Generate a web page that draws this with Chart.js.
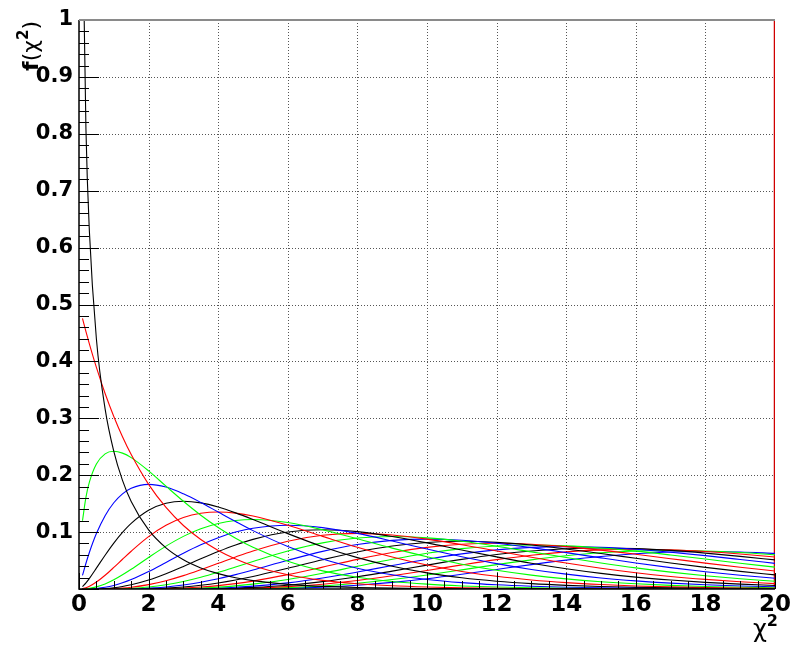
<!DOCTYPE html>
<html>
<head>
<meta charset="utf-8">
<script src="https://cdn.jsdelivr.net/npm/chart.js@4.4.1/dist/chart.umd.min.js"></script>
<style>
    html, body { margin: 0; padding: 0; background: #ffffff; }
    #wrap { width: 793px; height: 645px; }
</style>
</head>
<body>
<div id="wrap"><canvas id="chi2" width="793" height="645"></canvas></div>
<script>
let xs = [0.1, 0.2, 0.3, 0.5, 0.75, 1, 1.25, 1.5, 2, 2.5, 3, 3.5, 4, 4.5, 5, 6, 7, 8, 9, 10, 11, 12, 13, 14, 15, 16, 17, 18, 19, 20]

let k1 = [1.2000, 0.8072, 0.6269, 0.4394, 0.3166, 0.2420, 0.1910, 0.1539, 0.1038, 0.0723, 0.0514, 0.0371, 0.0270, 0.0198, 0.0147, 0.0081, 0.0046, 0.0026, 0.0015, 0.0009, 0.0005, 0.0003, 0.0002, 0.0001, 0.0001, 0, 0, 0, 0, 0]
let k2 = [0.4756, 0.4524, 0.4304, 0.3894, 0.3436, 0.3033, 0.2676, 0.2362, 0.1839, 0.1433, 0.1116, 0.0869, 0.0677, 0.0527, 0.0410, 0.0249, 0.0151, 0.0092, 0.0056, 0.0034, 0.0020, 0.0012, 0.0008, 0.0005, 0.0003, 0.0002, 0.0001, 0.0001, 0, 0]
let k3 = [0.1200, 0.1614, 0.1881, 0.2197, 0.2375, 0.2420, 0.2388, 0.2309, 0.2076, 0.1807, 0.1542, 0.1297, 0.1080, 0.0892, 0.0733, 0.0487, 0.0319, 0.0207, 0.0133, 0.0085, 0.0054, 0.0034, 0.0022, 0.0014, 0.0009, 0.0005, 0.0003, 0.0002, 0.0001, 0.0001]
let k4 = [0.0238, 0.0452, 0.0646, 0.0974, 0.1289, 0.1516, 0.1673, 0.1771, 0.1839, 0.1791, 0.1673, 0.1521, 0.1353, 0.1186, 0.1026, 0.0747, 0.0528, 0.0366, 0.0250, 0.0168, 0.0112, 0.0074, 0.0049, 0.0032, 0.0021, 0.0013, 0.0009, 0.0006, 0.0004, 0.0002]
let k5 = [0.0040, 0.0108, 0.0188, 0.0366, 0.0594, 0.0807, 0.0995, 0.1154, 0.1384, 0.1506, 0.1542, 0.1513, 0.1440, 0.1338, 0.1221, 0.0973, 0.0744, 0.0551, 0.0399, 0.0283, 0.0198, 0.0137, 0.0094, 0.0064, 0.0043, 0.0029, 0.0019, 0.0013, 0.0008, 0.0005]
let k6 = [0.0006, 0.0023, 0.0048, 0.0122, 0.0242, 0.0379, 0.0523, 0.0664, 0.0920, 0.1119, 0.1255, 0.1330, 0.1353, 0.1334, 0.1283, 0.1120, 0.0925, 0.0733, 0.0562, 0.0421, 0.0309, 0.0223, 0.0159, 0.0112, 0.0078, 0.0054, 0.0037, 0.0025, 0.0017, 0.0011]
let k7 = [0.0001, 0.0004, 0.0011, 0.0037, 0.0089, 0.0161, 0.0249, 0.0346, 0.0554, 0.0753, 0.0925, 0.1059, 0.1152, 0.1204, 0.1221, 0.1168, 0.1041, 0.0882, 0.0718, 0.0567, 0.0436, 0.0329, 0.0244, 0.0178, 0.0128, 0.0091, 0.0064, 0.0045, 0.0031, 0.0022]
let k8 = [0, 0.0001, 0.0002, 0.0010, 0.0030, 0.0063, 0.0109, 0.0166, 0.0307, 0.0466, 0.0628, 0.0776, 0.0902, 0.1001, 0.1069, 0.1120, 0.1079, 0.0977, 0.0844, 0.0702, 0.0567, 0.0446, 0.0344, 0.0261, 0.0194, 0.0143, 0.0104, 0.0075, 0.0053, 0.0038]
let k9 = [0, 0, 0, 0.0003, 0.0010, 0.0023, 0.0044, 0.0074, 0.0158, 0.0269, 0.0396, 0.0530, 0.0658, 0.0774, 0.0872, 0.1001, 0.1041, 0.1008, 0.0923, 0.0810, 0.0685, 0.0564, 0.0452, 0.0356, 0.0275, 0.0209, 0.0157, 0.0116, 0.0085, 0.0062]
let k10 = [0, 0, 0, 0.0001, 0.0003, 0.0008, 0.0017, 0.0031, 0.0077, 0.0146, 0.0235, 0.0340, 0.0451, 0.0563, 0.0668, 0.0840, 0.0944, 0.0977, 0.0949, 0.0877, 0.0779, 0.0669, 0.0559, 0.0456, 0.0365, 0.0286, 0.0221, 0.0169, 0.0127, 0.0095]
let k11 = [0, 0, 0, 0, 0.0001, 0.0003, 0.0006, 0.0012, 0.0035, 0.0075, 0.0132, 0.0206, 0.0293, 0.0387, 0.0484, 0.0667, 0.0810, 0.0896, 0.0923, 0.0899, 0.0838, 0.0752, 0.0653, 0.0553, 0.0458, 0.0371, 0.0296, 0.0232, 0.0179, 0.0137]
let k12 = [0, 0, 0, 0, 0, 0.0001, 0.0002, 0.0005, 0.0015, 0.0036, 0.0071, 0.0119, 0.0180, 0.0253, 0.0334, 0.0504, 0.0661, 0.0781, 0.0854, 0.0877, 0.0857, 0.0803, 0.0727, 0.0639, 0.0547, 0.0458, 0.0376, 0.0304, 0.0241, 0.0189]
let k13 = [0, 0, 0, 0, 0, 0, 0.0001, 0.0002, 0.0006, 0.0017, 0.0036, 0.0066, 0.0106, 0.0158, 0.0220, 0.0364, 0.0515, 0.0651, 0.0755, 0.0818, 0.0838, 0.0820, 0.0772, 0.0704, 0.0624, 0.0540, 0.0457, 0.0380, 0.0310, 0.0249]
let k14 = [0, 0, 0, 0, 0, 0, 0, 0.0001, 0.0003, 0.0008, 0.0018, 0.0035, 0.0060, 0.0095, 0.0139, 0.0252, 0.0385, 0.0521, 0.0641, 0.0731, 0.0786, 0.0803, 0.0787, 0.0745, 0.0684, 0.0611, 0.0533, 0.0455, 0.0382, 0.0315]
let k15 = [0, 0, 0, 0, 0, 0, 0, 0, 0.0001, 0.0003, 0.0008, 0.0018, 0.0033, 0.0055, 0.0085, 0.0168, 0.0277, 0.0401, 0.0523, 0.0629, 0.0709, 0.0757, 0.0772, 0.0758, 0.0720, 0.0665, 0.0598, 0.0526, 0.0453, 0.0384]
let k16 = [0, 0, 0, 0, 0, 0, 0, 0, 0, 0.0001, 0.0004, 0.0009, 0.0017, 0.0031, 0.0050, 0.0108, 0.0193, 0.0298, 0.0412, 0.0522, 0.0617, 0.0688, 0.0731, 0.0745, 0.0732, 0.0698, 0.0647, 0.0586, 0.0519, 0.0450]
let k17 = [0, 0, 0, 0, 0, 0, 0, 0, 0, 0.0001, 0.0002, 0.0004, 0.0009, 0.0016, 0.0028, 0.0067, 0.0129, 0.0214, 0.0314, 0.0419, 0.0520, 0.0606, 0.0669, 0.0708, 0.0720, 0.0709, 0.0678, 0.0631, 0.0574, 0.0511]
let k18 = [0, 0, 0, 0, 0, 0, 0, 0, 0, 0, 0.0001, 0.0002, 0.0004, 0.0009, 0.0016, 0.0041, 0.0084, 0.0149, 0.0232, 0.0326, 0.0424, 0.0516, 0.0594, 0.0652, 0.0687, 0.0698, 0.0688, 0.0659, 0.0616, 0.0563]
let k19 = [0, 0, 0, 0, 0, 0, 0, 0, 0, 0, 0, 0.0001, 0.0002, 0.0004, 0.0008, 0.0024, 0.0053, 0.0101, 0.0166, 0.0247, 0.0336, 0.0428, 0.0512, 0.0583, 0.0636, 0.0667, 0.0678, 0.0668, 0.0641, 0.0602]
let k20 = [0, 0, 0, 0, 0, 0, 0, 0, 0, 0, 0, 0, 0.0001, 0.0002, 0.0004, 0.0014, 0.0033, 0.0066, 0.0116, 0.0181, 0.0259, 0.0344, 0.0429, 0.0507, 0.0572, 0.0620, 0.0649, 0.0659, 0.0650, 0.0626]

let curves = [k1, k2, k3, k4, k5, k6, k7, k8, k9, k10, k11, k12, k13, k14, k15, k16, k17, k18, k19, k20]

// red edge line at the right of the frame
let edgeX = [20, 20]
let edgeY = [0, 1]

// root palette: 1 black, 2 red, 3 green, 4 blue
let lineColors = ["#000000", "#ff0000", "#00ff00", "#0000ff"]

// axis titles, written as runs so the "2" can sit raised and bold like in ROOT latex
let yTitle = [["f", "bold 22px 'DejaVu Sans'", 0], ["(χ", "22px 'DejaVu Sans'", 0], ["2", "bold 15px 'DejaVu Sans'", 10], [")", "22px 'DejaVu Sans'", 0]]
let xTitle = [["χ", "24px 'DejaVu Sans'", 0], ["2", "bold 16px 'DejaVu Sans'", 11]]

let datasets = curves.map((ys, index) => {
    return {
        label: `ndf = ${index + 1}`,
        data: ys.map((v, i) => ({x: xs[i], y: v})),
        borderColor: lineColors[index % 4],
        borderWidth: 1.1,
        pointRadius: 0,
        cubicInterpolationMode: "monotone",
        fill: false,
    }
})
datasets.push({
    label: "edge",
    data: edgeX.map((v, i) => ({x: v, y: edgeY[i]})),
    borderColor: "#d00000",
    borderWidth: 2.5,
    pointRadius: 0,
    fill: false,
})

function runsWidth(ctx, runs) {
    return runs.reduce((w, r) => {
        ctx.font = r[1]
        return w + ctx.measureText(r[0]).width
    }, 0)
}

function drawRuns(ctx, runs, x) {
    runs.forEach(r => {
        ctx.font = r[1]
        ctx.fillText(r[0], x, -r[2])
        x += ctx.measureText(r[0]).width
    })
}

// ROOT style frame: dotted grid below the curves, ticks inside the frame on top
let rootFrame = {
    id: "rootFrame",
    beforeDatasetsDraw(chart) {
        let {ctx, chartArea: a, scales: {x, y}} = chart
        ctx.save()
        ctx.strokeStyle = "#555555"
        ctx.lineWidth = 1
        ctx.setLineDash([1, 2])
        ctx.beginPath()
        x.ticks.forEach(t => {
            if (t.value <= x.min || t.value >= x.max) return
            let px = Math.round(x.getPixelForValue(t.value)) + 0.5
            ctx.moveTo(px, a.top)
            ctx.lineTo(px, a.bottom)
        })
        y.ticks.forEach(t => {
            if (t.value <= y.min || t.value >= y.max) return
            let py = Math.round(y.getPixelForValue(t.value)) + 0.5
            ctx.moveTo(a.left, py)
            ctx.lineTo(a.right, py)
        })
        ctx.stroke()
        ctx.restore()
    },
    afterDatasetsDraw(chart) {
        let {ctx, chartArea: a, scales: {x, y}} = chart
        ctx.save()
        ctx.lineWidth = 1
        ctx.strokeStyle = "#000000"
        ctx.beginPath()
        for (let i = 0; i <= 50; i++) {
            let py = Math.round(y.getPixelForValue(i * 0.02)) + 0.5
            let len = i % 5 === 0 ? 20 : 10
            ctx.moveTo(a.left, py)
            ctx.lineTo(a.left + len, py)
        }
        for (let i = 0; i <= 40; i++) {
            let px = Math.round(x.getPixelForValue(i * 0.5)) + 0.5
            let len = i % 4 === 0 ? 16 : 8
            ctx.moveTo(px, a.bottom)
            ctx.lineTo(px, a.bottom - len)
        }
        ctx.stroke()

        ctx.lineWidth = 1.5
        ctx.beginPath()
        ctx.moveTo(a.left, a.top)
        ctx.lineTo(a.left, a.bottom)
        ctx.lineTo(a.right, a.bottom)
        ctx.stroke()

        ctx.strokeStyle = "#8a8a8a"
        ctx.lineWidth = 2
        ctx.beginPath()
        ctx.moveTo(a.left, a.top)
        ctx.lineTo(a.right, a.top)
        ctx.stroke()

        // axis titles
        ctx.fillStyle = "#000000"
        ctx.textBaseline = "alphabetic"
        ctx.textAlign = "left"
        ctx.save()
        ctx.translate(38, a.top + 1)
        ctx.rotate(-Math.PI / 2)
        drawRuns(ctx, yTitle, -runsWidth(ctx, yTitle))
        ctx.restore()

        ctx.save()
        ctx.translate(a.right + 3, 637)
        drawRuns(ctx, xTitle, -runsWidth(ctx, xTitle))
        ctx.restore()
        ctx.restore()
    }
}

let tickFont = {family: "DejaVu Sans", weight: "bold"}

new Chart(document.getElementById("chi2").getContext("2d"), {
    type: "line",
    data: {datasets: datasets},
    plugins: [rootFrame],
    options: {
        animation: false,
        responsive: false,
        layout: {padding: {left: 0, right: 15, top: 20, bottom: 0}},
        plugins: {
            legend: {display: false},
            tooltip: {enabled: false},
        },
        scales: {
            x: {
                type: "linear",
                min: 0,
                max: 20,
                afterFit: s => { s.height = 56 },
                grid: {display: false, drawTicks: false},
                border: {display: false},
                ticks: {
                    stepSize: 2,
                    padding: 2,
                    autoSkip: false,
                    maxRotation: 0,
                    color: "#000000",
                    font: {...tickFont, size: 23},
                },
            },
            y: {
                type: "linear",
                min: 0,
                max: 1,
                afterFit: s => { s.width = 79 },
                grid: {display: false, drawTicks: false},
                border: {display: false},
                ticks: {
                    stepSize: 0.1,
                    padding: 6,
                    autoSkip: false,
                    color: "#000000",
                    font: {...tickFont, size: 21},
                    callback: v => v === 0 ? "" : String(Math.round(v * 10) / 10),
                },
            },
        },
    },
})
</script>
</body>
</html>
